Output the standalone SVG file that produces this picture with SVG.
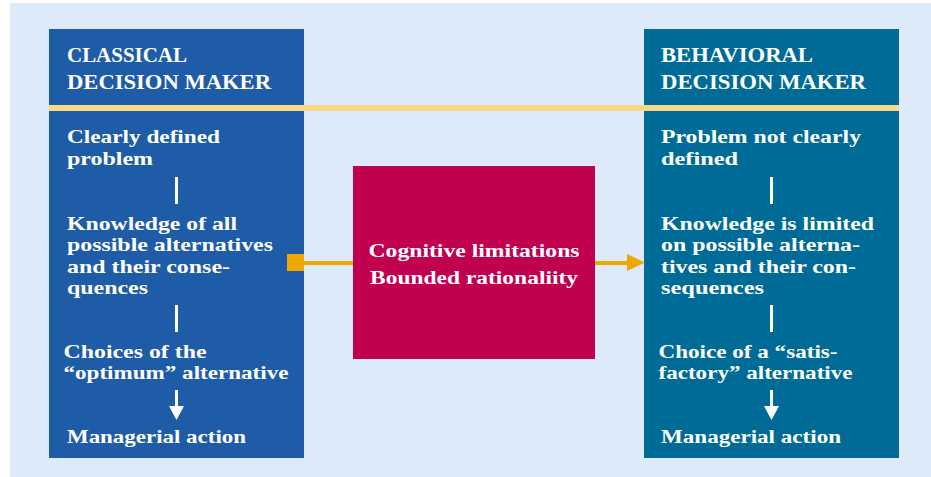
<svg xmlns="http://www.w3.org/2000/svg" width="931" height="477" viewBox="0 0 931 477">
<defs>
<style>
.t{font-family:"Liberation Serif","Times New Roman",serif;font-weight:bold;fill:#ffffff;}
.h{font-size:22px;}
.b{font-size:19.5px;}
.bar{stroke:#ffffff;stroke-width:3;fill:none;}
.arr{fill:#ffffff;}
</style>
</defs>
<rect x="10" y="3" width="921" height="474" fill="#dceaf9"/>
<g id="classical">
<rect x="49" y="29" width="255" height="429" fill="#1f5ca8"/>
<text class="t h" x="67" y="62" textLength="120" lengthAdjust="spacingAndGlyphs">CLASSICAL</text>
<text class="t h" x="67" y="89" textLength="204" lengthAdjust="spacingAndGlyphs">DECISION MAKER</text>
<text class="t b" x="67" y="143" textLength="153" lengthAdjust="spacingAndGlyphs">Clearly defined</text>
<text class="t b" x="67" y="165" textLength="86" lengthAdjust="spacingAndGlyphs">problem</text>
<text class="t b" x="67" y="230" textLength="170" lengthAdjust="spacingAndGlyphs">Knowledge of all</text>
<text class="t b" x="67" y="251" textLength="206" lengthAdjust="spacingAndGlyphs">possible alternatives</text>
<text class="t b" x="67" y="272.5" textLength="163" lengthAdjust="spacingAndGlyphs">and their conse-</text>
<text class="t b" x="67" y="294" textLength="81" lengthAdjust="spacingAndGlyphs">quences</text>
<text class="t b" x="63.5" y="358" textLength="143" lengthAdjust="spacingAndGlyphs">Choices of the</text>
<text class="t b" x="63.5" y="379" textLength="225" lengthAdjust="spacingAndGlyphs">“optimum” alternative</text>
<text class="t b" x="67" y="443" textLength="179" lengthAdjust="spacingAndGlyphs">Managerial action</text>
</g>
<g id="behavioral">
<rect x="644" y="29" width="255" height="429" fill="#006b96"/>
<text class="t h" x="661" y="62" textLength="152" lengthAdjust="spacingAndGlyphs">BEHAVIORAL</text>
<text class="t h" x="661" y="89" textLength="205" lengthAdjust="spacingAndGlyphs">DECISION MAKER</text>
<text class="t b" x="661" y="143" textLength="200" lengthAdjust="spacingAndGlyphs">Problem not clearly</text>
<text class="t b" x="661" y="165" textLength="77" lengthAdjust="spacingAndGlyphs">defined</text>
<text class="t b" x="661" y="230" textLength="213" lengthAdjust="spacingAndGlyphs">Knowledge is limited</text>
<text class="t b" x="661" y="251" textLength="199" lengthAdjust="spacingAndGlyphs">on possible alterna-</text>
<text class="t b" x="661" y="272.5" textLength="195" lengthAdjust="spacingAndGlyphs">tives and their con-</text>
<text class="t b" x="661" y="294" textLength="103" lengthAdjust="spacingAndGlyphs">sequences</text>
<text class="t b" x="658.5" y="358" textLength="179" lengthAdjust="spacingAndGlyphs">Choice of a “satis-</text>
<text class="t b" x="658.5" y="379" textLength="194" lengthAdjust="spacingAndGlyphs">factory” alternative</text>
<text class="t b" x="661" y="443" textLength="180" lengthAdjust="spacingAndGlyphs">Managerial action</text>
</g>
<rect x="49" y="105" width="850" height="6" fill="#f8d987"/>
<g id="bounded">
<rect x="353" y="166" width="242" height="193" fill="#c10050"/>
<text class="t b" x="474" y="257" text-anchor="middle" textLength="211" lengthAdjust="spacingAndGlyphs">Cognitive limitations</text>
<text class="t b" x="474" y="283.5" text-anchor="middle" textLength="208" lengthAdjust="spacingAndGlyphs">Bounded rationaliity</text>
</g>
<g id="connectors">
<line class="bar" x1="176.5" y1="177" x2="176.5" y2="204"/>
<line class="bar" x1="176.5" y1="305" x2="176.5" y2="332"/>
<line class="bar" x1="176.5" y1="390" x2="176.5" y2="408"/>
<polygon class="arr" points="169,406 184,406 176.5,420"/>
<line class="bar" x1="771.5" y1="177" x2="771.5" y2="204"/>
<line class="bar" x1="771.5" y1="305" x2="771.5" y2="332"/>
<line class="bar" x1="771.5" y1="390" x2="771.5" y2="408"/>
<polygon class="arr" points="764,406 779,406 771.5,420"/>
<rect x="287" y="254" width="17" height="17" fill="#f0a800"/>
<line x1="304" y1="263" x2="353" y2="263" stroke="#f0a800" stroke-width="4"/>
<line x1="595" y1="263" x2="629" y2="263" stroke="#f0a800" stroke-width="4"/>
<polygon points="627,254 645,262.5 627,271" fill="#f0a800"/>
</g>
</svg>
